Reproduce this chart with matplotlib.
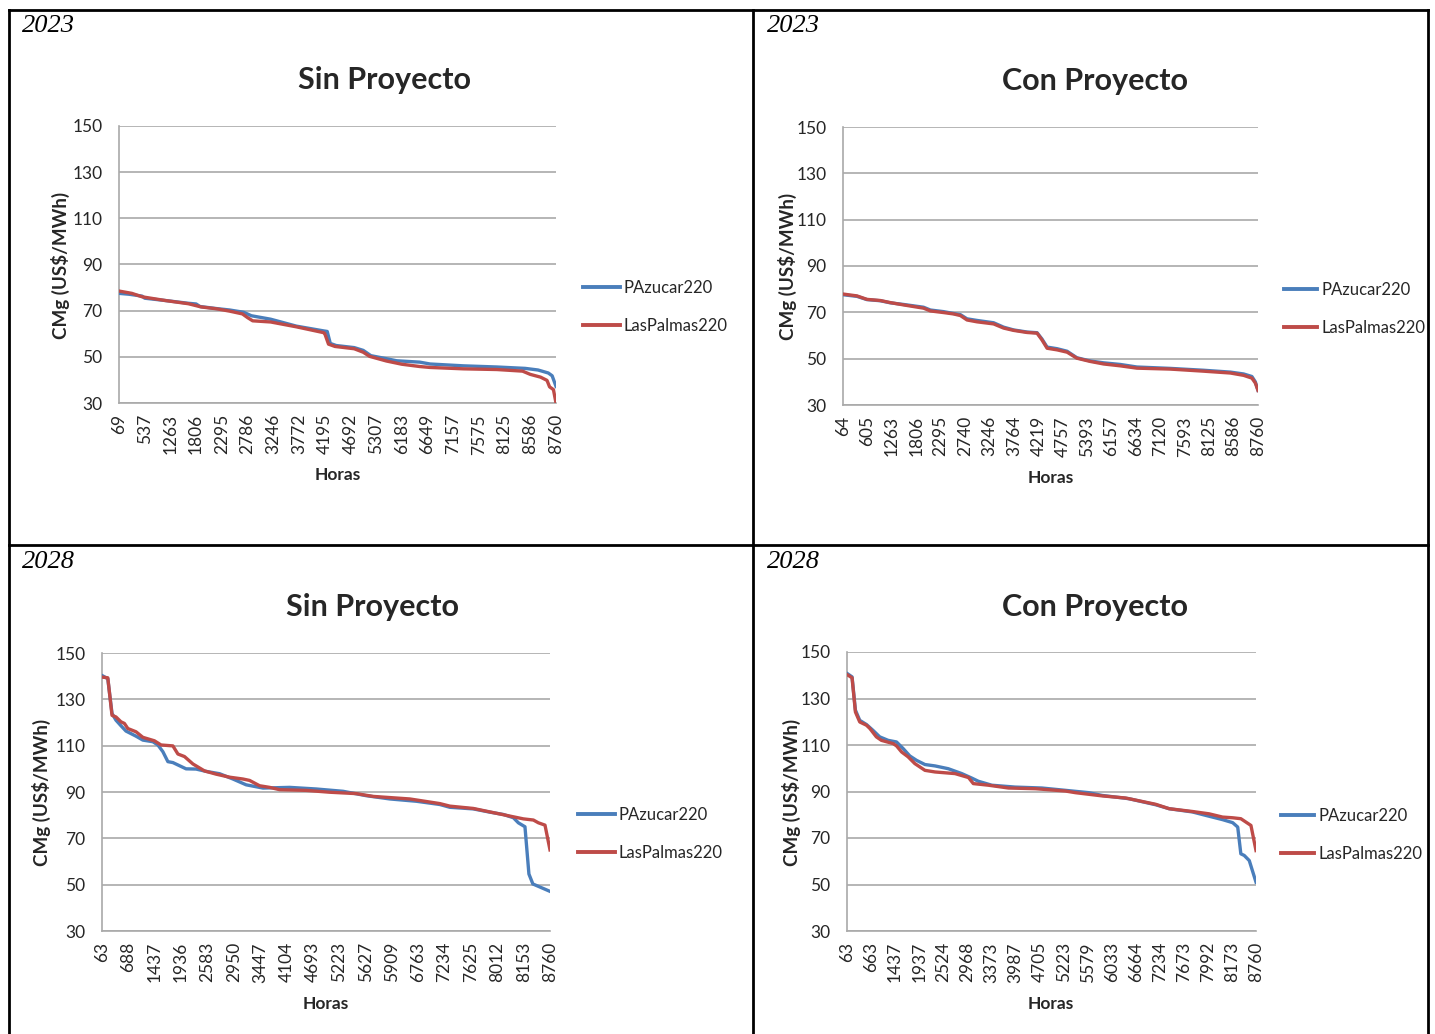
import matplotlib
matplotlib.use("Agg")
import matplotlib.pyplot as plt
from matplotlib.lines import Line2D

# ---------------------------------------------------------------------------
# Marginal cost duration curves (CMg, US$/MWh) by node, 2023 and 2028
# Positions are along the category axis, in units of tick-label steps (0..17)
# ---------------------------------------------------------------------------
series_names = ["PAzucar220", "LasPalmas220"]

hours_2023_sin = ["69", "537", "1263", "1806", "2295", "2786", "3246", "3772", "4195",
                  "4692", "5307", "6183", "6649", "7157", "7575", "8125", "8586", "8760"]
hours_2023_con = ["64", "605", "1263", "1806", "2295", "2740", "3246", "3764", "4219",
                  "4757", "5393", "6157", "6634", "7120", "7593", "8125", "8586", "8760"]
hours_2028_sin = ["63", "688", "1437", "1936", "2583", "2950", "3447", "4104", "4693",
                  "5223", "5627", "5909", "6763", "7234", "7625", "8012", "8153", "8760"]
hours_2028_con = ["63", "663", "1437", "1937", "2524", "2968", "3373", "3987", "4705",
                  "5223", "5579", "6033", "6664", "7234", "7673", "7992", "8173", "8760"]

# 2023 - Sin Proyecto
pos_23s_paz = [0, 0.4, 0.9, 1.0, 1.8, 2.7, 3.0, 3.15, 3.8, 4.3, 4.85, 5.15, 5.9, 6.9, 7.98, 8.1,
               8.22, 8.45, 9.15, 9.5, 9.8, 10.4, 10.8, 11.7, 12.1, 13.4, 14.7, 15.8, 16.3, 16.7,
               16.85, 17]
cmg_23s_paz = [77.5, 77.1, 76.3, 75.4, 74.4, 73.2, 72.9, 71.8, 70.9, 70.3, 69.3, 67.8, 66.3, 63.3,
               61.2, 61.0, 55.8, 54.9, 54.0, 52.8, 50.5, 49.2, 48.3, 47.7, 46.9, 46.1, 45.6, 45.0,
               44.3, 43.0, 41.8, 37.2]
pos_23s_lpa = [0, 0.5, 0.9, 1.8, 2.7, 3.2, 3.8, 4.3, 4.8, 5.0, 5.2, 5.9, 6.9, 7.95, 8.0, 8.15,
               8.4, 9.15, 9.5, 9.75, 10.4, 11.0, 11.7, 12.1, 13.4, 14.7, 15.7, 16.0, 16.4, 16.65,
               16.75, 16.9, 17]
cmg_23s_lpa = [78.5, 77.5, 76.0, 74.4, 73.0, 71.6, 70.8, 69.8, 68.6, 67.0, 65.6, 65.1, 63.0, 60.5,
               60.2, 55.5, 54.5, 53.5, 52.0, 50.2, 48.2, 46.8, 45.8, 45.4, 44.8, 44.5, 43.8, 42.4,
               41.2, 39.8, 37.0, 35.8, 30.0]

# 2023 - Con Proyecto
pos_23c = [0, 0.57, 0.98, 1.53, 1.94, 2.48, 2.89, 3.30, 3.58, 4.12, 4.53, 4.81, 5.08, 5.49, 6.17,
           6.58, 6.99, 7.54, 7.95, 8.15, 8.36, 8.77, 9.18, 9.58, 10.13, 10.68, 11.36, 12.04,
           13.41, 14.77, 15.87, 16.41, 16.75, 16.89, 17]
cmg_23c_paz = [77.6, 76.9, 75.5, 75.0, 74.1, 73.4, 72.8, 72.2, 71.0, 70.3, 69.5, 69.0, 67.2, 66.5,
               65.5, 63.6, 62.4, 61.5, 61.2, 58.5, 55.0, 54.3, 53.2, 50.4, 49.0, 48.2, 47.5, 46.4,
               45.8, 45.0, 44.2, 43.4, 42.3, 40.0, 36.3]
cmg_23c_lpa = [77.9, 77.1, 75.6, 75.1, 74.2, 73.2, 72.5, 71.8, 70.6, 69.9, 69.3, 68.6, 66.7, 65.9,
               65.0, 63.2, 62.2, 61.3, 61.0, 58.1, 54.5, 53.8, 52.8, 50.2, 48.8, 47.7, 46.9, 45.9,
               45.5, 44.6, 43.8, 42.8, 41.6, 39.5, 36.3]

# 2028 - Sin Proyecto
pos_28s_paz = [0, 0.22, 0.38, 0.53, 0.72, 0.91, 1.29, 1.55, 1.93, 2.12, 2.31, 2.50, 2.69, 3.19,
               3.57, 3.95, 4.46, 4.97, 5.47, 6.11, 7.12, 8.13, 9.15, 10.03, 10.92, 11.93, 12.82,
               13.20, 14.09, 14.72, 15.23, 15.61, 15.80, 16.05, 16.2, 16.35, 17]
cmg_28s_paz = [140.3, 138.9, 123.9, 121.0, 118.6, 116.3, 114.1, 112.4, 111.7, 110.3, 107.4, 103.1,
               102.7, 100.0, 99.9, 98.9, 97.9, 95.6, 93.1, 91.7, 92.0, 91.3, 90.3, 88.4, 87.0,
               86.0, 84.6, 83.4, 82.7, 81.3, 80.3, 78.9, 76.7, 75.0, 54.6, 50.3, 47.1]
pos_28s_lpa = [0, 0.22, 0.38, 0.53, 0.72, 0.85, 0.98, 1.29, 1.55, 1.99, 2.24, 2.69, 2.88, 3.13,
               3.45, 3.89, 4.33, 4.84, 5.35, 5.60, 5.98, 6.36, 6.74, 7.75, 8.64, 9.65, 10.29,
               11.68, 12.82, 13.20, 14.09, 14.72, 15.48, 15.99, 16.37, 16.56, 16.81, 17]
cmg_28s_lpa = [139.6, 139.3, 123.1, 122.4, 120.3, 119.6, 117.4, 116.0, 113.6, 112.1, 110.3, 109.9,
               106.4, 105.3, 102.1, 99.1, 97.7, 96.4, 95.6, 95.0, 92.7, 92.0, 91.0, 90.7, 89.9,
               89.3, 88.1, 87.0, 85.0, 83.9, 82.9, 81.4, 79.6, 78.4, 77.9, 76.7, 75.7, 65.0]

# 2028 - Con Proyecto
pos_28c_paz = [0, 0.21, 0.35, 0.53, 0.81, 1.08, 1.36, 1.71, 2.06, 2.34, 2.61, 2.89, 3.24, 3.66,
               4.21, 4.77, 5.18, 5.46, 6.02, 6.99, 8.10, 9.08, 10.05, 10.61, 11.72, 12.83, 13.39,
               14.36, 14.92, 15.61, 16.03, 16.24, 16.37, 16.51, 16.72, 17]
cmg_28c_paz = [140.8, 139.3, 125.0, 120.6, 118.8, 116.3, 113.5, 112.0, 111.3, 108.4, 105.3, 103.4,
               101.6, 101.0, 99.8, 97.7, 95.8, 94.4, 92.7, 91.9, 91.5, 90.5, 89.5, 88.3, 86.9,
               84.3, 82.6, 81.2, 79.7, 77.9, 76.6, 74.7, 63.2, 62.5, 60.3, 51.0]
pos_28c_lpa = [0, 0.21, 0.35, 0.53, 0.81, 0.95, 1.22, 1.43, 1.92, 2.06, 2.27, 2.54, 2.82, 3.24,
               3.66, 4.49, 5.05, 5.25, 5.88, 6.71, 7.83, 9.08, 9.49, 10.61, 11.58, 12.83, 13.39,
               14.36, 15.05, 15.61, 16.03, 16.37, 16.79, 17]
cmg_28c_lpa = [140.3, 138.9, 124.2, 119.9, 118.5, 117.1, 113.5, 112.0, 110.6, 109.6, 107.0, 104.9,
               102.0, 99.1, 98.4, 97.7, 96.0, 93.4, 92.7, 91.5, 91.2, 90.2, 89.5, 88.1, 87.2, 84.5,
               82.6, 81.4, 80.4, 79.0, 78.7, 78.3, 75.4, 64.6]

y_ticks = [30, 50, 70, 90, 110, 130, 150]

# ---------------------------------------------------------------------------
W, H = 1435, 1034
fig = plt.figure(figsize=(W / 100, H / 100), dpi=100)
fig.patch.set_facecolor("white")

BLUE = "#4a7ebb"
RED = "#be4b48"
GRID = "#a9a9a9"
TEXT = "#262626"
SANS = ["Lato", "DejaVu Sans"]


def fx(px):
    return px / W


def fy(py):
    return 1 - py / H


panels = [
    dict(year="2023", title="Sin Proyecto", hours=hours_2023_sin,
         paz=(pos_23s_paz, cmg_23s_paz), lpa=(pos_23s_lpa, cmg_23s_lpa),
         box=(119, 126, 556, 403), year_xy=(22, 26), title_xy=(384, 80),
         ylab_xy=(60, 265), xlab_xy=(338, 475), leg_xy=(583, 280), hl=2.2),
    dict(year="2023", title="Con Proyecto", hours=hours_2023_con,
         paz=(pos_23c, cmg_23c_paz), lpa=(pos_23c, cmg_23c_lpa),
         box=(843, 127, 1258, 405), year_xy=(767, 26), title_xy=(1095, 81),
         ylab_xy=(787, 266), xlab_xy=(1051, 478), leg_xy=(1284, 282), hl=2.0),
    dict(year="2028", title="Sin Proyecto", hours=hours_2028_sin,
         paz=(pos_28s_paz, cmg_28s_paz), lpa=(pos_28s_lpa, cmg_28s_lpa),
         box=(102, 653, 550, 931), year_xy=(22, 562), title_xy=(373, 607),
         ylab_xy=(41, 792), xlab_xy=(326, 1004), leg_xy=(578, 807), hl=2.2),
    dict(year="2028", title="Con Proyecto", hours=hours_2028_con,
         paz=(pos_28c_paz, cmg_28c_paz), lpa=(pos_28c_lpa, cmg_28c_lpa),
         box=(847, 652, 1256, 931), year_xy=(767, 562), title_xy=(1095, 607),
         ylab_xy=(791, 792), xlab_xy=(1051, 1004), leg_xy=(1281, 808), hl=2.0),
]

for p in panels:
    l, t, r, b = p["box"]
    ax = fig.add_axes([fx(l), fy(b), (r - l) / W, (b - t) / H])
    ax.plot(p["paz"][0], p["paz"][1], color=BLUE, lw=2.4, label=series_names[0],
            solid_joinstyle="round", zorder=3)
    ax.plot(p["lpa"][0], p["lpa"][1], color=RED, lw=2.4, label=series_names[1],
            solid_joinstyle="round", zorder=4)

    n = len(p["hours"])
    ax.set_xlim(0, n - 1)
    ax.set_ylim(30, 150)
    ax.set_xticks(range(n))
    ax.set_xticklabels(p["hours"], rotation=90, family=SANS, fontsize=12.5, color=TEXT)
    ax.set_yticks(y_ticks)
    ax.set_yticklabels([str(v) for v in y_ticks], family=SANS, fontsize=12.5, color=TEXT)
    ax.tick_params(length=0, pad=8)
    ax.tick_params(axis="y", pad=12)
    ax.grid(axis="y", color=GRID, lw=1.2)
    ax.set_axisbelow(True)
    for side in ("top", "right"):
        ax.spines[side].set_visible(False)
    for side in ("left", "bottom"):
        ax.spines[side].set_color(GRID)
        ax.spines[side].set_linewidth(1.2)

    fig.text(fx(p["year_xy"][0]), fy(p["year_xy"][1]), p["year"], family="Liberation Serif",
             style="italic", fontsize=19, ha="left", va="center", color="black")
    fig.text(fx(p["title_xy"][0]), fy(p["title_xy"][1]), p["title"], family=SANS,
             weight="bold", fontsize=22, ha="center", va="center", color=TEXT)
    fig.text(fx(p["ylab_xy"][0]), fy(p["ylab_xy"][1]), "CMg (US$/MWh)", family=SANS,
             weight="bold", fontsize=13.5, rotation=90, ha="center", va="center", color=TEXT)
    fig.text(fx(p["xlab_xy"][0]), fy(p["xlab_xy"][1]), "Horas", family=SANS,
             weight="bold", fontsize=12.5, ha="center", va="center", color=TEXT)

    leg = ax.legend(loc="upper left", bbox_to_anchor=(fx(p["leg_xy"][0]), fy(p["leg_xy"][1])),
                    bbox_transform=fig.transFigure, frameon=False, borderpad=0,
                    borderaxespad=0, handlelength=p["hl"], handletextpad=0.25,
                    labelspacing=1.3, prop=dict(family=SANS, size=12))
    for txt in leg.get_texts():
        txt.set_color(TEXT)
    for line in leg.get_lines():
        line.set_linewidth(2.8)

# Table frame around the four panels
frame_kw = dict(color="black", lw=2.0, transform=fig.transFigure)
fig.add_artist(Line2D([fx(9), fx(1428)], [fy(10), fy(10)], **frame_kw))
fig.add_artist(Line2D([fx(9), fx(1428)], [fy(545), fy(545)], **frame_kw))
fig.add_artist(Line2D([fx(9), fx(9)], [fy(10), 0], **frame_kw))
fig.add_artist(Line2D([fx(753), fx(753)], [fy(10), 0], **frame_kw))
fig.add_artist(Line2D([fx(1428), fx(1428)], [fy(10), 0], **frame_kw))

fig.savefig("out.png", dpi=100, facecolor="white")
